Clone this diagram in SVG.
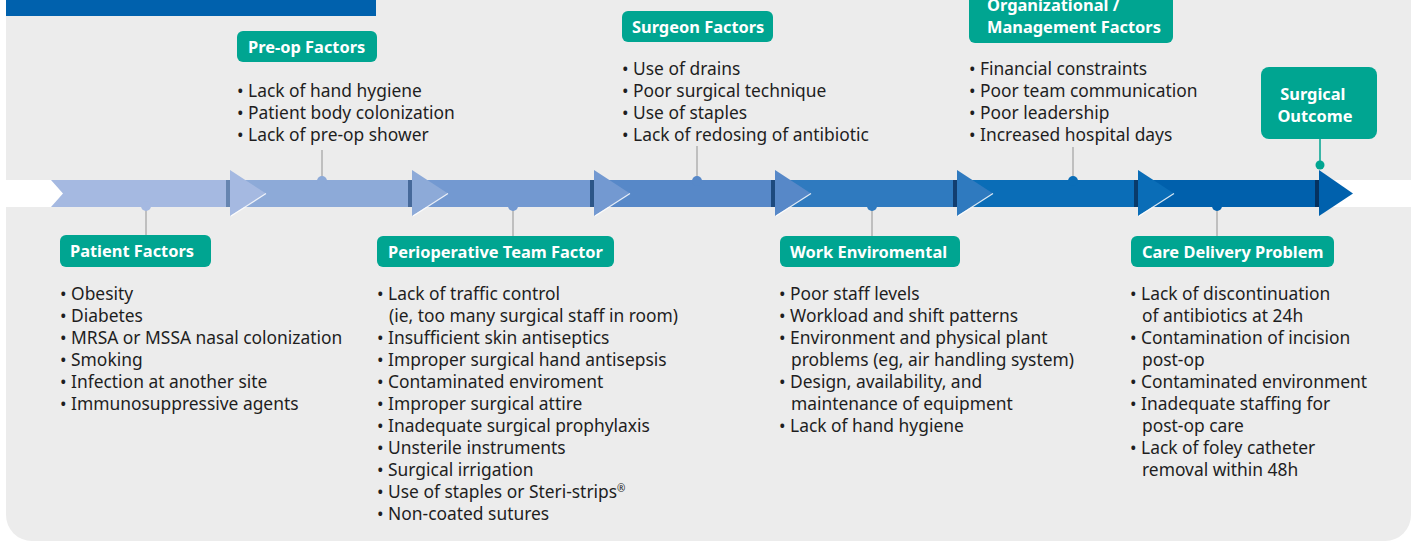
<svg xmlns="http://www.w3.org/2000/svg" width="1414" height="542" viewBox="0 0 1414 542">
  <style>
    .panel { fill: #ececec; }
    .lbl { fill: #00a591; }
    .lblt { font-family: "Noto Sans", "Open Sans", sans-serif; font-weight: bold; font-size: 16.4px; fill: #ffffff; }
    .bul { font-family: "Noto Sans", "Open Sans", sans-serif; font-size: 17.4px; fill: #1e1e1e; transform: translate(0px, 1px); }
    .conn { stroke: #a8a8a8; stroke-width: 1.3; fill: none; }
    .tipline { stroke: #ffffff; stroke-width: 1.2; stroke-opacity: 0.85; }
  </style>

  <!-- background panel and header bar -->
  <rect class="panel" x="6" y="-30" width="1405" height="571" rx="26" ry="26"/>
  <rect x="6" y="0" width="370" height="16" fill="#0061ad"/>

  <!-- white track behind the timeline -->
  <rect x="6" y="180" width="1408" height="27" fill="#ffffff"/>

  <!-- timeline segments -->
  <g id="timeline">
    <polygon points="51,180 231,180 231,207 51,207 63,193.5" fill="#a5b9e1"/>
    <rect x="226" y="180" width="4" height="27" fill="#6685b0"/>
    <rect x="230" y="180" width="182" height="27" fill="#8daad8"/>
    <rect x="408" y="180" width="4" height="27" fill="#46699a"/>
    <rect x="412" y="180" width="182" height="27" fill="#7399d1"/>
    <rect x="590" y="180" width="4" height="27" fill="#2c5688"/>
    <rect x="594" y="180" width="181" height="27" fill="#5788c8"/>
    <rect x="771" y="180" width="4" height="27" fill="#1d4a7e"/>
    <rect x="775" y="180" width="182" height="27" fill="#2f7abf"/>
    <rect x="953" y="180" width="4" height="27" fill="#123e70"/>
    <rect x="957" y="180" width="181" height="27" fill="#0a6db7"/>
    <rect x="1134" y="180" width="4" height="27" fill="#093b6a"/>
    <rect x="1138" y="180" width="181" height="27" fill="#0060ac"/>
    <rect x="1315" y="180" width="4" height="27" fill="#053260"/>

    <!-- chevron heads -->
    <polygon points="230,170 266,193.5 230,216" fill="#a5b9e1"/>
    <line class="tipline" x1="266" y1="193.5" x2="231" y2="216"/>
    <polygon points="412,170 448,193.5 412,216" fill="#8daad8"/>
    <line class="tipline" x1="448" y1="193.5" x2="413" y2="216"/>
    <polygon points="594,170 630,193.5 594,216" fill="#7399d1"/>
    <line class="tipline" x1="630" y1="193.5" x2="595" y2="216"/>
    <polygon points="775,170 811,193.5 775,216" fill="#5788c8"/>
    <line class="tipline" x1="811" y1="193.5" x2="776" y2="216"/>
    <polygon points="957,170 993,193.5 957,216" fill="#2f7abf"/>
    <line class="tipline" x1="993" y1="193.5" x2="958" y2="216"/>
    <polygon points="1138,170 1174,193.5 1138,216" fill="#0a6db7"/>
    <line class="tipline" x1="1174" y1="193.5" x2="1139" y2="216"/>
    <polygon points="1319,170 1353,193.5 1319,216" fill="#0061ad"/>
  </g>

  <!-- connectors -->
  <g id="connectors">
    <line class="conn" x1="146" y1="207" x2="146" y2="236"/>
    <circle cx="146" cy="206" r="5" fill="#a5b9e1"/>
    <line class="conn" x1="322" y1="150" x2="322" y2="181"/>
    <circle cx="322" cy="181" r="5" fill="#8daad8"/>
    <line class="conn" x1="513" y1="207" x2="513" y2="237"/>
    <circle cx="513" cy="206" r="5" fill="#7399d1"/>
    <line class="conn" x1="697" y1="146" x2="697" y2="181"/>
    <circle cx="697" cy="181" r="5" fill="#5788c8"/>
    <line class="conn" x1="872" y1="207" x2="872" y2="237"/>
    <circle cx="872" cy="206" r="5" fill="#2f7abf"/>
    <line class="conn" x1="1073" y1="147" x2="1073" y2="181"/>
    <circle cx="1073" cy="181" r="5" fill="#0a6db7"/>
    <line class="conn" x1="1217" y1="207" x2="1217" y2="237"/>
    <circle cx="1217" cy="206" r="5" fill="#0060ac"/>
    <line x1="1320" y1="138" x2="1320" y2="165" stroke="#00a591" stroke-width="1.5"/>
    <circle cx="1320" cy="165" r="4.5" fill="#00a591"/>
  </g>

  <!-- Patient Factors -->
  <g id="patient-factors">
    <rect class="lbl" x="60" y="235" width="151" height="32" rx="6"/>
    <text class="lblt" x="70" y="257">Patient Factors</text>
    <text class="bul">
      <tspan x="60" y="299">• Obesity</tspan>
      <tspan x="60" y="321">• Diabetes</tspan>
      <tspan x="60" y="343">• MRSA or MSSA nasal colonization</tspan>
      <tspan x="60" y="365">• Smoking</tspan>
      <tspan x="60" y="387">• Infection at another site</tspan>
      <tspan x="60" y="409">• Immunosuppressive agents</tspan>
    </text>
  </g>

  <!-- Pre-op Factors -->
  <g id="preop-factors">
    <rect class="lbl" x="237" y="31" width="140" height="31" rx="6"/>
    <text class="lblt" x="248" y="53">Pre-op Factors</text>
    <text class="bul">
      <tspan x="237" y="96">• Lack of hand hygiene</tspan>
      <tspan x="237" y="118">• Patient body colonization</tspan>
      <tspan x="237" y="140">• Lack of pre-op shower</tspan>
    </text>
  </g>

  <!-- Perioperative Team Factor -->
  <g id="periop-team">
    <rect class="lbl" x="377" y="236" width="237" height="31" rx="6"/>
    <text class="lblt" x="388" y="258">Perioperative Team Factor</text>
    <text class="bul">
      <tspan x="377" y="299">• Lack of traffic control</tspan>
      <tspan x="389" y="321">(ie, too many surgical staff in room)</tspan>
      <tspan x="377" y="343">• Insufficient skin antiseptics</tspan>
      <tspan x="377" y="365">• Improper surgical hand antisepsis</tspan>
      <tspan x="377" y="387">• Contaminated enviroment</tspan>
      <tspan x="377" y="409">• Improper surgical attire</tspan>
      <tspan x="377" y="431">• Inadequate surgical prophylaxis</tspan>
      <tspan x="377" y="453">• Unsterile instruments</tspan>
      <tspan x="377" y="475">• Surgical irrigation</tspan>
      <tspan x="377" y="497">• Use of staples or Steri-strips<tspan font-size="10" dy="-6">®</tspan></tspan>
      <tspan x="377" y="519">• Non-coated sutures</tspan>
    </text>
  </g>

  <!-- Surgeon Factors -->
  <g id="surgeon-factors">
    <rect class="lbl" x="622" y="11" width="151" height="31" rx="6"/>
    <text class="lblt" x="632" y="33">Surgeon Factors</text>
    <text class="bul">
      <tspan x="622" y="74">• Use of drains</tspan>
      <tspan x="622" y="96">• Poor surgical technique</tspan>
      <tspan x="622" y="118">• Use of staples</tspan>
      <tspan x="622" y="140">• Lack of redosing of antibiotic</tspan>
    </text>
  </g>

  <!-- Work Enviromental -->
  <g id="work-environmental">
    <rect class="lbl" x="780" y="236" width="180" height="31" rx="6"/>
    <text class="lblt" x="790" y="258">Work Enviromental</text>
    <text class="bul">
      <tspan x="779" y="299">• Poor staff levels</tspan>
      <tspan x="779" y="321">• Workload and shift patterns</tspan>
      <tspan x="779" y="343">• Environment and physical plant</tspan>
      <tspan x="791" y="365">problems (eg, air handling system)</tspan>
      <tspan x="779" y="387">• Design, availability, and</tspan>
      <tspan x="791" y="409">maintenance of equipment</tspan>
      <tspan x="779" y="431">• Lack of hand hygiene</tspan>
    </text>
  </g>

  <!-- Organizational / Management Factors -->
  <g id="org-management">
    <rect class="lbl" x="969" y="-10" width="204" height="53" rx="6"/>
    <text class="lblt">
      <tspan x="987" y="11">Organizational /</tspan>
      <tspan x="987" y="33">Management Factors</tspan>
    </text>
    <text class="bul">
      <tspan x="969" y="74">• Financial constraints</tspan>
      <tspan x="969" y="96">• Poor team communication</tspan>
      <tspan x="969" y="118">• Poor leadership</tspan>
      <tspan x="969" y="140">• Increased hospital days</tspan>
    </text>
  </g>

  <!-- Surgical Outcome -->
  <g id="surgical-outcome">
    <rect class="lbl" x="1261" y="67" width="116" height="72" rx="8"/>
    <text class="lblt" text-anchor="middle">
      <tspan x="1315" y="100">Surgical</tspan>
      <tspan x="1315" y="122">Outcome</tspan>
    </text>
  </g>

  <!-- Care Delivery Problem -->
  <g id="care-delivery">
    <rect class="lbl" x="1131" y="236" width="203" height="31" rx="6"/>
    <text class="lblt" x="1142" y="258">Care Delivery Problem</text>
    <text class="bul">
      <tspan x="1130" y="299">• Lack of discontinuation</tspan>
      <tspan x="1142" y="321">of antibiotics at 24h</tspan>
      <tspan x="1130" y="343">• Contamination of incision</tspan>
      <tspan x="1142" y="365">post-op</tspan>
      <tspan x="1130" y="387">• Contaminated environment</tspan>
      <tspan x="1130" y="409">• Inadequate staffing for</tspan>
      <tspan x="1142" y="431">post-op care</tspan>
      <tspan x="1130" y="453">• Lack of foley catheter</tspan>
      <tspan x="1142" y="475">removal within 48h</tspan>
    </text>
  </g>
</svg>
